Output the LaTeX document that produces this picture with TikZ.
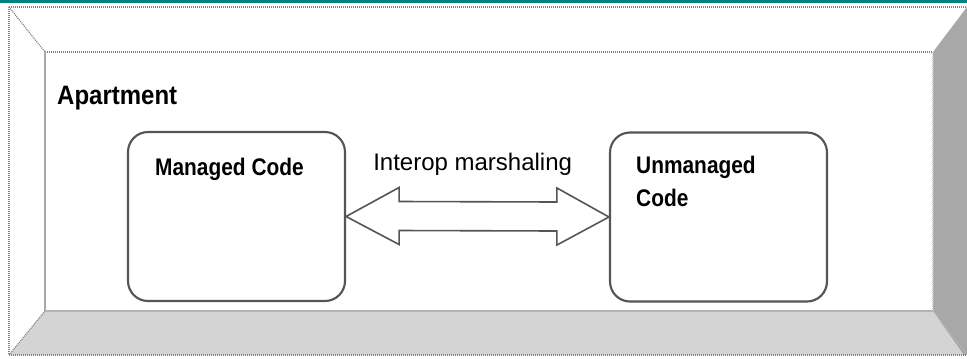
\documentclass[tikz,border=0pt]{standalone}
\usepackage{fontspec}
\setmainfont{Liberation Sans}
\usetikzlibrary{calc}
\definecolor{teal}{RGB}{0,128,128}
\definecolor{bevelright}{RGB}{168,168,168}
\definecolor{bevelbottom}{RGB}{212,212,212}
\definecolor{edgegray}{RGB}{130,130,130}
\definecolor{boxline}{RGB}{85,85,85}
\tikzset{
  dotline/.style={edgegray, line width=0.9pt, dash pattern=on 0.75pt off 0.75pt},
  codebox/.style={draw=boxline, line width=1.6pt, rounded corners=15pt, fill=white,
    minimum width=162.75pt, minimum height=126.75pt, inner sep=0pt},
  boldlabel/.style={font=\bfseries\fontsize{18}{24.75}\selectfont, inner sep=0pt,
    anchor=base west, align=left, xscale=0.87, transform shape},
  titlelabel/.style={font=\bfseries\fontsize{20}{24}\selectfont, inner sep=0pt,
    anchor=base west, xscale=0.9, transform shape},
  plainlabel/.style={font=\fontsize{18}{22}\selectfont, inner sep=0pt, anchor=base west},
  marshal/.style={draw=boxline, line width=1.2pt, fill=white, line join=miter}
}
\begin{document}
\begin{tikzpicture}[x=0.75pt, y=-0.75pt]
  \useasboundingbox (0,0) rectangle (967,358);
  \fill[white] (0,0) rectangle (967,358);
  % teal rule along the top edge
  \fill[teal] (0,0) rectangle (967,2.5);

  % bevelled apartment frame
  \fill[white] (9,7) rectangle (967,355);
  \fill[bevelright] (933,52) -- (967,7) -- (967,355) -- (933,311) -- cycle;
  \fill[bevelbottom] (45,311) -- (933,311) -- (967,355) -- (9,355) -- cycle;
  \fill[bevelright] (933,311) -- (967,355) -- (964,355) -- cycle;
  \draw[dotline] (9,7) -- (967,7);
  \draw[dotline] (9,7) -- (9,355);
  \draw[dotline] (9,7) -- (45,52);
  \draw[dotline] (45,52) -- (933,52);
  \draw[edgegray!70, line width=0.9pt] (45,52) -- (45,311);
  \draw[edgegray!50, line width=0.8pt, dash pattern=on 0.75pt off 0.75pt] (933,52) -- (933,311);
  \draw[dotline] (9,355) -- (45,311);
  \draw[edgegray!60, line width=0.9pt] (45,311) -- (933,311);
  \draw[dotline] (9,355) -- (967,355);

  \node[titlelabel] (apt) at (57,104) {Apartment};

  % the two code boxes
  \node[codebox] (managed) at (236.5,216.5) {};
  \node[codebox] (unmanaged) at (718.5,217) {};
  \node[boldlabel] (managedtext) at (155,175) {Managed Code};
  \node[boldlabel] (unmanagedtext) at (636,206) {Unmanaged\\Code};

  % double block arrow between the boxes
  \draw[marshal]
    (managed.east)
    -- ($(managed.east)+(53,-29)$) -- ($(managed.east)+(53,-15)$)
    -- ($(unmanaged.west)+(-52,-15)$) -- ($(unmanaged.west)+(-52,-29)$)
    -- (unmanaged.west)
    -- ($(unmanaged.west)+(-52,28)$) -- ($(unmanaged.west)+(-52,14)$)
    -- ($(managed.east)+(53,14)$) -- ($(managed.east)+(53,28)$)
    -- cycle;
  \node[plainlabel] (marshaltext) at (373,170.5) {Interop marshaling};
\end{tikzpicture}
\end{document}
